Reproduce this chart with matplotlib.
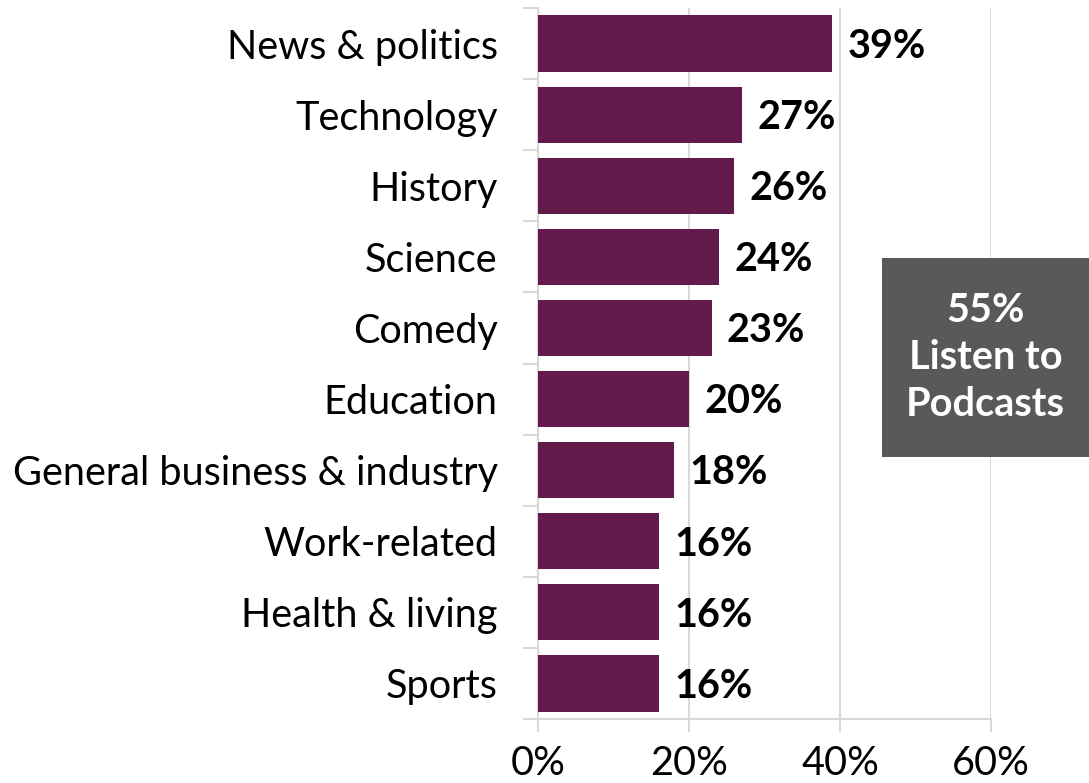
import matplotlib
matplotlib.use("Agg")
import matplotlib.pyplot as plt
import numpy as np
from matplotlib.patches import Rectangle

categories = ["News & politics", "Technology", "History", "Science", "Comedy",
              "Education", "General business & industry", "Work-related",
              "Health & living", "Sports"]
values = [39, 27, 26, 24, 23, 20, 18, 16, 16, 16]
xticks = [0, 20, 40, 60]
xtick_labels = ["0%", "20%", "40%", "60%"]
callout_lines = ["55%", "Listen to", "Podcasts"]

plt.rcParams['font.family'] = ['Lato', 'DejaVu Sans']

fig = plt.figure(figsize=(10.89, 7.83), dpi=100)
ax = fig.add_axes([538/1089, 1 - 719/783, (991 - 538)/1089, (719 - 8)/783])

y = np.arange(len(categories))
bar_color = "#621B4A"
grid_color = "#D9D9D9"
ax.barh(y, values, height=0.79, color=bar_color, zorder=3)
ax.set_ylim(len(categories) - 0.5, -0.5)
ax.set_xlim(0, 60)

fs = 28.5
ax.set_xticks(xticks)
ax.set_xticklabels(xtick_labels, fontsize=fs)
ax.set_yticks(y)
ax.set_yticklabels(categories, fontsize=fs)
ax.tick_params(axis='y', which='major', length=0, pad=29)
ax.set_yticks(np.arange(-0.5, len(categories) + 0.5, 1), minor=True)
ax.tick_params(axis='y', which='minor', length=11, width=1.5, color=grid_color, direction='out')
ax.tick_params(axis='x', which='major', length=9, width=1.5, color=grid_color, pad=10)

ax.grid(axis='x', color=grid_color, linewidth=1.5, zorder=0)
for s in ['top', 'right']:
    ax.spines[s].set_visible(False)
for s in ['left', 'bottom']:
    ax.spines[s].set_color(grid_color)
    ax.spines[s].set_linewidth(1.5)

for yi, v in zip(y, values):
    ax.annotate(f"{v}%", (v, yi), xytext=(11, -2), textcoords='offset points',
                ha='left', va='center', fontsize=fs, fontweight='bold', color='black')

box_x0, box_y0, box_x1, box_y1 = 882, 258, 1089, 457
fig.patches.append(Rectangle((box_x0/1089, 1 - box_y1/783), (box_x1 - box_x0)/1089,
                             (box_y1 - box_y0)/783, transform=fig.transFigure,
                             facecolor="#595959", edgecolor='none', zorder=5))
fig.text((box_x0 + box_x1)/2/1089, 1 - (box_y0 + box_y1)/2/783, "\n".join(callout_lines),
         ha='center', va='center', color='white', fontsize=fs, fontweight='bold',
         linespacing=1.32, zorder=6)

fig.savefig("out.png", dpi=100)
